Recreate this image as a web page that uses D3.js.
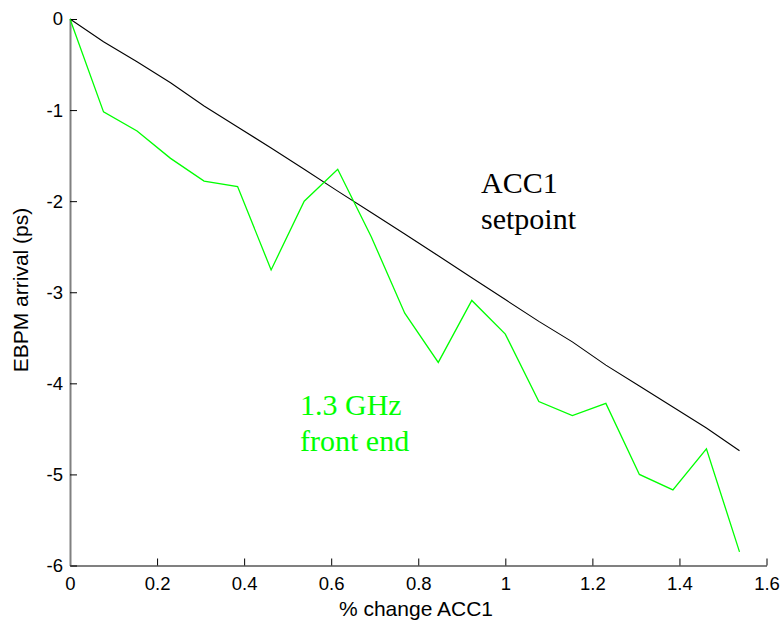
<!DOCTYPE html>
<html>
<head>
<meta charset="utf-8">
<script src="https://cdn.jsdelivr.net/npm/d3@7"></script>
<style>
  html, body { margin: 0; padding: 0; background: #fff; }
  svg { display: block; }
</style>
</head>
<body>
<svg id="chart" width="784" height="622"></svg>
<script>
// ---- data ----
const xValues = [0, 0.077, 0.154, 0.231, 0.308, 0.385, 0.462, 0.538, 0.615, 0.692, 0.769,
                 0.846, 0.923, 1.0, 1.077, 1.154, 1.231, 1.308, 1.385, 1.462, 1.538];
const setpointValues = [0, -0.25, -0.47, -0.70, -0.955, -1.185, -1.416, -1.65, -1.89, -2.125, -2.36,
                        -2.60, -2.84, -3.08, -3.32, -3.545, -3.80, -4.03, -4.26, -4.49, -4.74];
const frontEndValues = [0, -1.02, -1.23, -1.53, -1.78, -1.84, -2.755, -2.0, -1.65, -2.39, -3.23,
                        -3.77, -3.09, -3.46, -4.20, -4.355, -4.22, -5.0, -5.17, -4.72, -5.85];
const xTicks = [0, 0.2, 0.4, 0.6, 0.8, 1, 1.2, 1.4, 1.6];
const yTicks = [0, -1, -2, -3, -4, -5, -6];
const xLabel = "% change ACC1";
const yLabel = "EBPM arrival (ps)";
const setpointLabel = ["ACC1", "setpoint"];
const frontEndLabel = ["1.3 GHz", "front end"];

// ---- drawing ----
const svg = d3.select("#chart");
const x = d3.scaleLinear().domain([0, 1.6]).range([70, 766.5]);
const y = d3.scaleLinear().domain([-6, 0]).range([565.5, 19]);
const sans = "Arial, 'Liberation Sans', sans-serif";
const serif = "'Times New Roman', 'Liberation Serif', serif";

const fmt = d => String(d);

const gx = svg.append("g").attr("transform", `translate(0,${y(-6)})`)
  .call(d3.axisBottom(x).tickValues(xTicks).tickFormat(fmt).tickSizeInner(-7).tickSizeOuter(0).tickPadding(11));
const gy = svg.append("g").attr("transform", `translate(${x(0)},0)`)
  .call(d3.axisLeft(y).tickValues(yTicks).tickFormat(fmt).tickSizeInner(-7).tickSizeOuter(0).tickPadding(7));

[gx, gy].forEach(g => {
  g.select(".domain").attr("stroke", "#808080").attr("stroke-width", 2);
  g.selectAll(".tick line").attr("stroke", "#000").attr("stroke-width", 1);
  g.selectAll(".tick text").attr("fill", "#000").style("font-family", sans).style("font-size", "18.5px");
});

const line = d3.line().x((d, i) => x(xValues[i])).y(d => y(d));

svg.append("path").datum(setpointValues)
  .attr("d", line).attr("fill", "none").attr("stroke", "#000").attr("stroke-width", 1.1);
svg.append("path").datum(frontEndValues)
  .attr("d", line).attr("fill", "none").attr("stroke", "#00ff00").attr("stroke-width", 1.3);

// axis labels
svg.append("text").attr("x", 416).attr("y", 616).attr("text-anchor", "middle")
  .style("font-family", sans).style("font-size", "21px").attr("fill", "#000").text(xLabel);
svg.append("text").attr("transform", "translate(28,290) rotate(-90)").attr("text-anchor", "middle")
  .style("font-family", sans).style("font-size", "21px").attr("fill", "#000").text(yLabel);

// annotations
const t1 = svg.append("text").attr("x", 481).attr("y", 193)
  .style("font-family", serif).style("font-size", "30px").attr("fill", "#000");
setpointLabel.forEach((s, i) => t1.append("tspan").attr("x", 481).attr("dy", i === 0 ? 0 : 36).text(s));

const t2 = svg.append("text").attr("x", 300).attr("y", 415)
  .style("font-family", serif).style("font-size", "30px").attr("fill", "#00ff00");
frontEndLabel.forEach((s, i) => t2.append("tspan").attr("x", 300).attr("dy", i === 0 ? 0 : 36).text(s));
</script>
</body>
</html>
